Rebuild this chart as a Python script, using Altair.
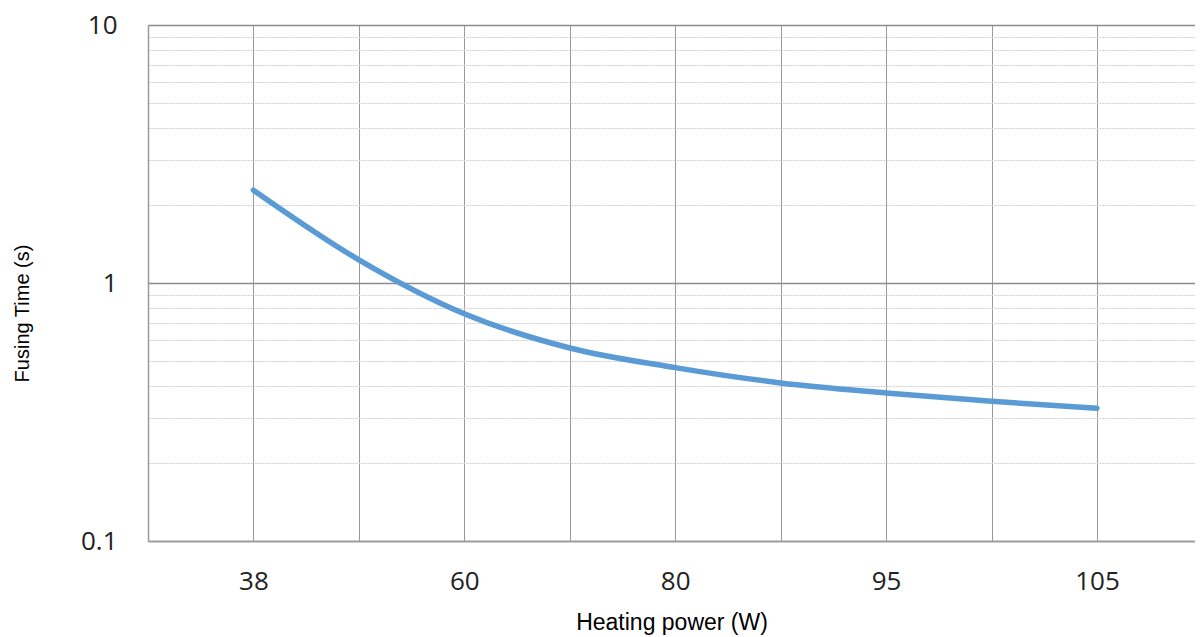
import altair as alt
import pandas as pd

# data
x_pos = [1, 2, 3, 4, 5, 6, 7, 8, 9]
fusing_time = [2.29, 1.23, 0.76, 0.56, 0.47, 0.41, 0.375, 0.348, 0.327]

# x tick labels at grid positions 0..9 (only odd positions labelled)
x_tick_labels = ["", "38", "", "60", "", "80", "", "95", "", "105"]
x_grid_values = list(range(0, 10))

y_major = [0.1, 1, 10]
y_ticks = [0.1, 0.2, 0.3, 0.4, 0.5, 0.6, 0.7, 0.8, 0.9,
           1, 2, 3, 4, 5, 6, 7, 8, 9, 10]

df = pd.DataFrame({"x": x_pos, "t": fusing_time})

label_arr = "[" + ",".join("'" + s + "'" for s in x_tick_labels) + "]"
major_test = " || ".join(f"datum.value == {v}" for v in y_major)

x_axis = alt.Axis(
    values=x_grid_values,
    labelExpr=f"{label_arr}[datum.value]",
    grid=True, gridColor="#9a9a9a", gridWidth=1,
    ticks=False, domain=True, domainColor="#9a9a9a", domainWidth=1.5,
    labelFont="Open Sans", labelFontSize=26, labelColor="#222222",
    labelPadding=27, labelFlush=False,
    title="Heating power (W)", titleFont="Arial",
    titleFontSize=23, titleFontWeight="normal", titleColor="#000000",
    titlePadding=17,
)

y_axis = alt.Axis(
    values=y_ticks,
    labelExpr=f"({major_test}) ? format(datum.value, '~g') : ''",
    grid=True,
    gridColor={"condition": {"test": major_test, "value": "#8c8c8c"}, "value": "#cfcfcf"},
    gridDash={"condition": {"test": major_test, "value": []}, "value": [2, 1]},
    gridWidth={"condition": {"test": major_test, "value": 1.5}, "value": 1},
    ticks=False, domain=True, domainColor="#9a9a9a", domainWidth=1.5,
    labelFont="Open Sans", labelFontSize=26, labelColor="#222222",
    labelPadding=31, labelFlush=False,
    title="Fusing Time (s)", titleFont="Arial",
    titleFontSize=20, titleFontWeight="normal", titleColor="#000000",
    titlePadding=48, titleY=288,
)

chart = alt.Chart(df).mark_line(
    color="#5b9bd5", strokeWidth=5.5, interpolate="monotone", strokeCap="round"
).encode(
    x=alt.X("x:Q", scale=alt.Scale(domain=[0, 9.93], nice=False, zero=False), axis=x_axis),
    y=alt.Y("t:Q", scale=alt.Scale(type="log", domain=[0.1, 10], nice=False), axis=y_axis),
).properties(
    width=1047, height=516,
    autosize=alt.AutoSizeParams(type="none"),
    padding={"left": 140, "top": 17, "right": 0, "bottom": 96},
).configure_view(stroke=None).configure(background="white")

chart.save("out.html", embed_options={"renderer": "svg", "actions": False})
